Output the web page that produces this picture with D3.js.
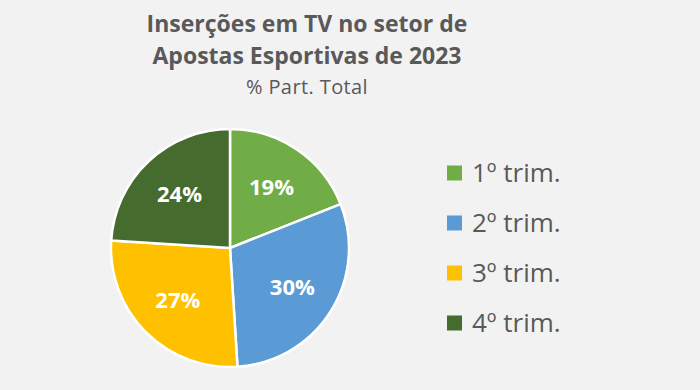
<!DOCTYPE html>
<html><head><meta charset="utf-8">
<script src="https://cdn.jsdelivr.net/npm/d3@7"></script>
<style>html,body{margin:0;padding:0;background:#f2f2f2;}</style>
</head><body>
<svg id="c" width="700" height="390"></svg>
<script>
const categories = ["1º trim.", "2º trim.", "3º trim.", "4º trim."];
const values = [19, 30, 27, 24];
const labels = ["19%", "30%", "27%", "24%"];
const colors = ["#70ad47", "#5b9bd5", "#ffc000", "#466b2e"];
const titleLines = ["Inserções em TV no setor de", "Apostas Esportivas de 2023"];
const subtitle = "% Part. Total";

const svg = d3.select("#c");
svg.append("rect").attr("width",700).attr("height",390).attr("fill","#f2f2f2");
const font = "'Open Sans', Calibri, sans-serif";

svg.selectAll("text.title").data(titleLines).enter().append("text")
  .attr("x",307).attr("y",(d,i)=>32+i*32).attr("text-anchor","middle")
  .attr("font-family",font).attr("font-weight","bold").attr("font-size",23)
  .attr("fill","#595959").text(d=>d);
svg.append("text").attr("x",307).attr("y",94).attr("text-anchor","middle")
  .attr("font-family",font).attr("font-size",20).attr("letter-spacing",0.4)
  .attr("fill","#595959").text(subtitle);

const cx=230, cy=248, r=119;
const pie = d3.pie().sort(null).value(d=>d)(values);
const arc = d3.arc().innerRadius(0).outerRadius(r);
const labelArc = d3.arc().innerRadius(r*0.62).outerRadius(r*0.62);
const g = svg.append("g").attr("transform",`translate(${cx},${cy})`);
g.selectAll("path").data(pie).enter().append("path")
  .attr("d",arc).attr("fill",(d,i)=>colors[i]).attr("stroke","#ffffff").attr("stroke-width",2.5);
g.selectAll("text").data(pie).enter().append("text")
  .attr("transform",d=>`translate(${labelArc.centroid(d)})`)
  .attr("text-anchor","middle").attr("dy","0.35em")
  .attr("font-family",font).attr("font-weight","bold").attr("font-size",22)
  .attr("fill","#ffffff").text((d,i)=>labels[i]);

const y = d3.scaleBand().domain(categories).range([148,348]);
const lg = svg.append("g");
const items = lg.selectAll("g").data(categories).enter().append("g")
  .attr("transform",d=>`translate(447,${y(d)+y.bandwidth()/2})`);
items.append("rect").attr("x",0).attr("y",-7.5).attr("width",15).attr("height",15)
  .attr("fill",(d,i)=>colors[i]);
items.append("text").attr("x",25).attr("y",0).attr("dy","0.35em")
  .attr("font-family",font).attr("font-size",26).attr("fill","#595959").text(d=>d);
</script>
</body></html>
